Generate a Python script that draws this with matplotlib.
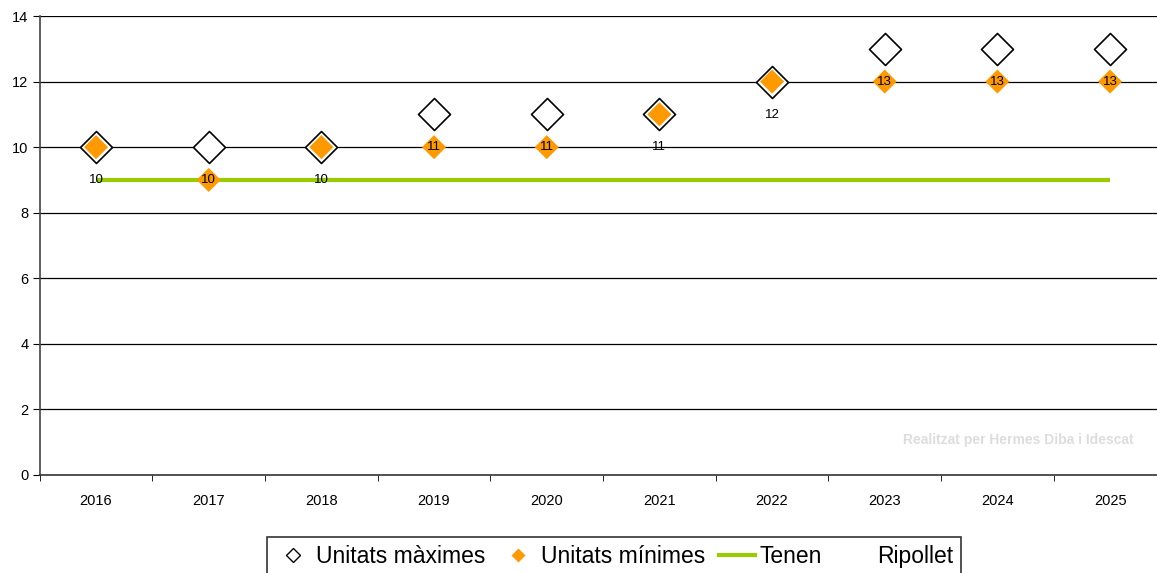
import numpy as np
import matplotlib
matplotlib.use('Agg')
import matplotlib.pyplot as plt
from matplotlib.lines import Line2D

years = ['2016', '2017', '2018', '2019', '2020', '2021', '2022', '2023', '2024', '2025']
unitats_maximes = [10, 10, 10, 11, 11, 11, 12, 13, 13, 13]
unitats_minimes = [10, 9, 10, 10, 10, 11, 12, 12, 12, 12]
tenen = [9, 9, 9, 9, 9, 9, 9, 9, 9, 9]

plt.rcParams['font.family'] = ['Liberation Sans', 'DejaVu Sans']

W, H = 1157, 573
fig = plt.figure(figsize=(W / 100, H / 100), dpi=100)
# plot area is slightly wider than the image: right side gets cut off
left, right, top, bottom = 39.7, 1166.4, 16, 475
ax = fig.add_axes([left / W, 1 - bottom / H, (right - left) / W, (bottom - top) / H])

x = np.arange(len(years))
ax.set_xlim(-0.5, len(years) - 0.5)
ax.set_ylim(0, 14)
ax.set_yticks(range(0, 15, 2))
for y in range(2, 15, 2):
    ax.axhline(y, color='black', lw=0.9, zorder=1)

ax.plot(x, tenen, color='#99CC00', lw=3, zorder=2, solid_capstyle='butt')
ax.scatter(x, unitats_maximes, marker='D', s=265, facecolor='white', edgecolor='black',
           linewidth=1.2, zorder=3)
ax.scatter(x, unitats_minimes, marker='D', s=150, facecolor='#FF9900', edgecolor='none', zorder=4)

# data labels of the maximum series sit below each marker
for xi, v in zip(x, unitats_maximes):
    ax.annotate(str(v), (xi, v), xytext=(0, -33), textcoords='offset pixels',
                ha='center', va='center', fontsize=9.5, zorder=5)

ax.set_xticks(x)
ax.set_xticklabels(years, fontsize=10.5)
ax.set_xticks(np.arange(-0.5, len(years), 1), minor=True)
ax.tick_params(axis='x', which='major', length=0, pad=14)
ax.tick_params(axis='x', which='minor', length=4, direction='out', color='black')
ax.tick_params(axis='y', length=5, direction='out', labelsize=10.5, pad=3)
for s in ['top', 'right']:
    ax.spines[s].set_visible(False)
ax.spines['left'].set_color('#444444')
ax.spines['bottom'].set_color('#333333')
ax.spines['left'].set_linewidth(1.2)
ax.spines['bottom'].set_linewidth(1.2)

fig.text(1018 / W, 1 - 440 / H, 'Realitzat per Hermes Diba i Idescat', color='#dddddd',
         fontsize=10, fontweight='bold', ha='center', va='center')

handles = [
    Line2D([], [], marker='D', ls='none', markerfacecolor='white', markeredgecolor='black',
           markersize=7.5),
    Line2D([], [], marker='D', ls='none', markerfacecolor='#FF9900', markeredgecolor='none',
           markersize=7.5),
    Line2D([], [], color='#99CC00', lw=3),
    Line2D([], [], ls='none'),
]
labels = ['Unitats màximes', 'Unitats mínimes', 'Tenen', 'Ripollet']
leg = fig.legend(handles, labels, loc='upper left', bbox_to_anchor=(267 / W, 1 - 537 / H),
                 ncol=4, frameon=True, fancybox=False, fontsize=16.5, handlelength=1.6,
                 handletextpad=0.2, columnspacing=0.6, borderpad=0.35, borderaxespad=0)
leg.get_frame().set_edgecolor('black')
leg.get_frame().set_linewidth(1.2)

fig.savefig('out.png', dpi=100)
